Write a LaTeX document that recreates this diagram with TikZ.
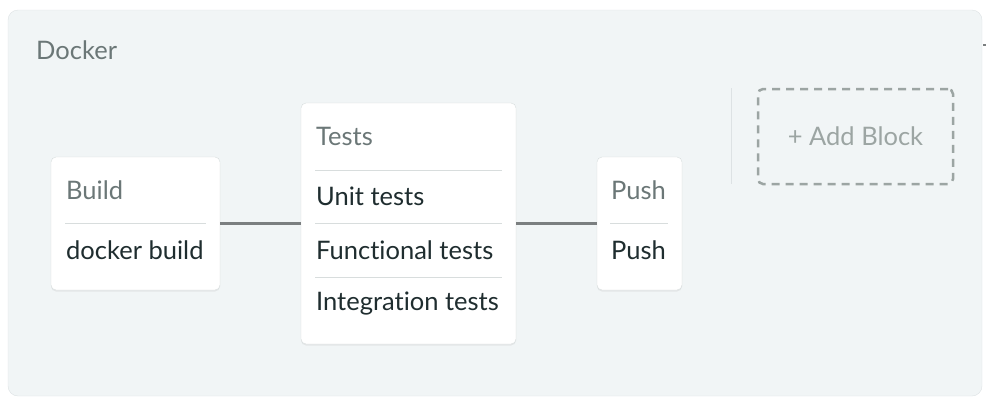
\documentclass[tikz,border=0pt]{standalone}
\usepackage{fontspec}
\setmainfont{Lato}[Ligatures=NoCommon]
\usetikzlibrary{shadows}
\definecolor{panelbg}{HTML}{F1F5F6}
\definecolor{panelline}{HTML}{DDE2E4}
\definecolor{titlegray}{HTML}{6B7777}
\definecolor{jobdark}{HTML}{1F2D2F}
\definecolor{rulegray}{HTML}{D8DDDD}
\definecolor{linkgray}{HTML}{7B7F80}
\definecolor{addgray}{HTML}{9CA5A3}
\begin{document}
\begin{tikzpicture}[x=1pt,y=-1pt,
  block/.style={draw=rulegray, fill=white, rounded corners=5pt, inner sep=0pt,
    drop shadow={opacity=0.12, shadow xshift=0pt, shadow yshift=-1.5pt}},
  blocktitle/.style={anchor=west, inner sep=0pt, font=\fontsize{25.5}{28}\selectfont, text=titlegray},
  job/.style={anchor=west, inner sep=0pt, font=\fontsize{25.5}{28}\selectfont, text=jobdark},
  divider/.style={draw=rulegray, line width=1pt},
  link/.style={draw=linkgray, line width=3pt}]
  \useasboundingbox (0,0) rectangle (986,397);
  %pipeline panel
  \filldraw[fill=panelbg, draw=panelline, rounded corners=10pt]
  (8,10) rectangle (982,396);
  \draw[linkgray, line width=2.5pt] (983,45) -- (986,45);
  \node[blocktitle] (docker) at (36,50) {Docker};

  %Build block
  \node[block, minimum width=169pt, minimum height=133pt] (build) at (135.5,223.5) {};
  \node[blocktitle] (build-title) at (66,190) {Build};
  \draw[divider] (65,223) -- (206,223);
  \node[job] (build-job) at (66,250) {docker build};

  %Tests block
  \node[block, minimum width=215pt, minimum height=241pt] (tests) at (408.5,223.5) {};
  \node[blocktitle] (tests-title) at (316,136) {Tests};
  \draw[divider] (315,170) -- (502,170);
  \node[job] (tests-unit) at (316,196) {Unit tests};
  \draw[divider] (315,223) -- (502,223);
  \node[job] (tests-func) at (316,250) {Functional tests};
  \draw[divider] (315,277) -- (502,277);
  \node[job] (tests-int) at (316,304) {Integration tests};

  %Push block
  \node[block, minimum width=85pt, minimum height=133pt] (push) at (639.5,223.5) {};
  \node[blocktitle] (push-title) at (611,190) {Push};
  \draw[divider] (610,223) -- (668,223);
  \node[job] (push-job) at (611,250) {Push};

  %links between blocks
  \draw[link] (build.east) -- (tests.west);
  \draw[link] (tests.east) -- (push.west);

  %add block
  \draw[panelline, line width=1pt] (731,88) -- (731,184);
  \node[draw=addgray, dashed, dash pattern=on 8pt off 6pt, line width=2.5pt,
    rounded corners=5pt, minimum width=195pt, minimum height=95pt,
    text=addgray, font=\fontsize{25.5}{28}\selectfont] (add) at (855.5,136.5) {+ Add Block};
\end{tikzpicture}
\end{document}
